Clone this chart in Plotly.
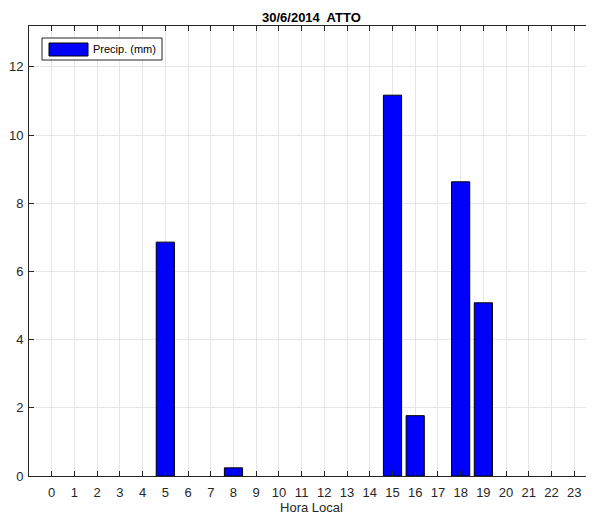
import plotly.graph_objects as go

hours = list(range(24))
# None where no rain fell, so no empty outlined bar is drawn at zero
precip = [None, None, None, None, None, 6.86, None, None, 0.24, None, None, None,
          None, None, None, 11.17, 1.77, None, 8.63, 5.08, None, None, None, None]
tick_labels = [str(h) for h in hours]
y_ticks = [0, 2, 4, 6, 8, 10, 12]
legend_label = "Precip. (mm)"
title_text = "30/6/2014  ATTO"

fig = go.Figure()
fig.add_trace(go.Bar(
    x=hours,
    y=precip,
    name=legend_label,
    width=0.8,
    marker=dict(color="#0000FF", line=dict(color="black", width=1)),
    showlegend=False,
))

axis_common = dict(
    showline=True, linecolor="#262626", linewidth=1,
    ticks="inside", ticklen=5, tickcolor="#262626",
    showgrid=True, gridcolor="#E6E6E6", gridwidth=1,
    zeroline=False, automargin=False,
    tickfont=dict(family="Arial", size=13, color="#262626"),
)

# page body has an 8px margin, so the figure is 8px smaller and margins shifted
fig.update_layout(
    width=586, height=508,
    margin=dict(l=21, r=0, t=18, b=40),
    paper_bgcolor="white", plot_bgcolor="white",
    xaxis=dict(range=[-1, 23.87], tickvals=hours, ticktext=tick_labels, mirror="ticks",
               ticklabelstandoff=4,
               title=dict(text="Hora Local", standoff=3, font=dict(family="Arial", size=13, color="#262626")),
               **axis_common),
    yaxis=dict(range=[0, 13.2], tickvals=y_ticks, mirror=False, ticklabelstandoff=2, **axis_common),
    showlegend=False,
)

# title
fig.add_annotation(text="<b>" + title_text + "</b>", xref="paper", yref="paper", x=0.5, y=1,
                   yanchor="middle", yshift=8.5, showarrow=False,
                   font=dict(family="Arial", size=13, color="black"))

# MATLAB-style legend box with a wide swatch
fig.add_shape(type="rect", xref="paper", yref="paper", x0=13 / 565, x1=133 / 565,
              y0=1 - 34 / 450, y1=1 - 12 / 450, line=dict(color="#262626", width=1), fillcolor="white", layer="above")
fig.add_shape(type="rect", xref="paper", yref="paper", x0=20 / 565, x1=59 / 565,
              y0=1 - 30 / 450, y1=1 - 17 / 450, line=dict(color="black", width=1), fillcolor="#0000FF", layer="above")
fig.add_annotation(text=legend_label, xref="paper", yref="paper", x=62 / 565, y=1 - 23.5 / 450,
                   xanchor="left", yanchor="middle", showarrow=False,
                   font=dict(family="Arial", size=11, color="black"))

fig.update_xaxes(fixedrange=True)
fig.update_yaxes(fixedrange=True)

fig.write_html("out.html")
